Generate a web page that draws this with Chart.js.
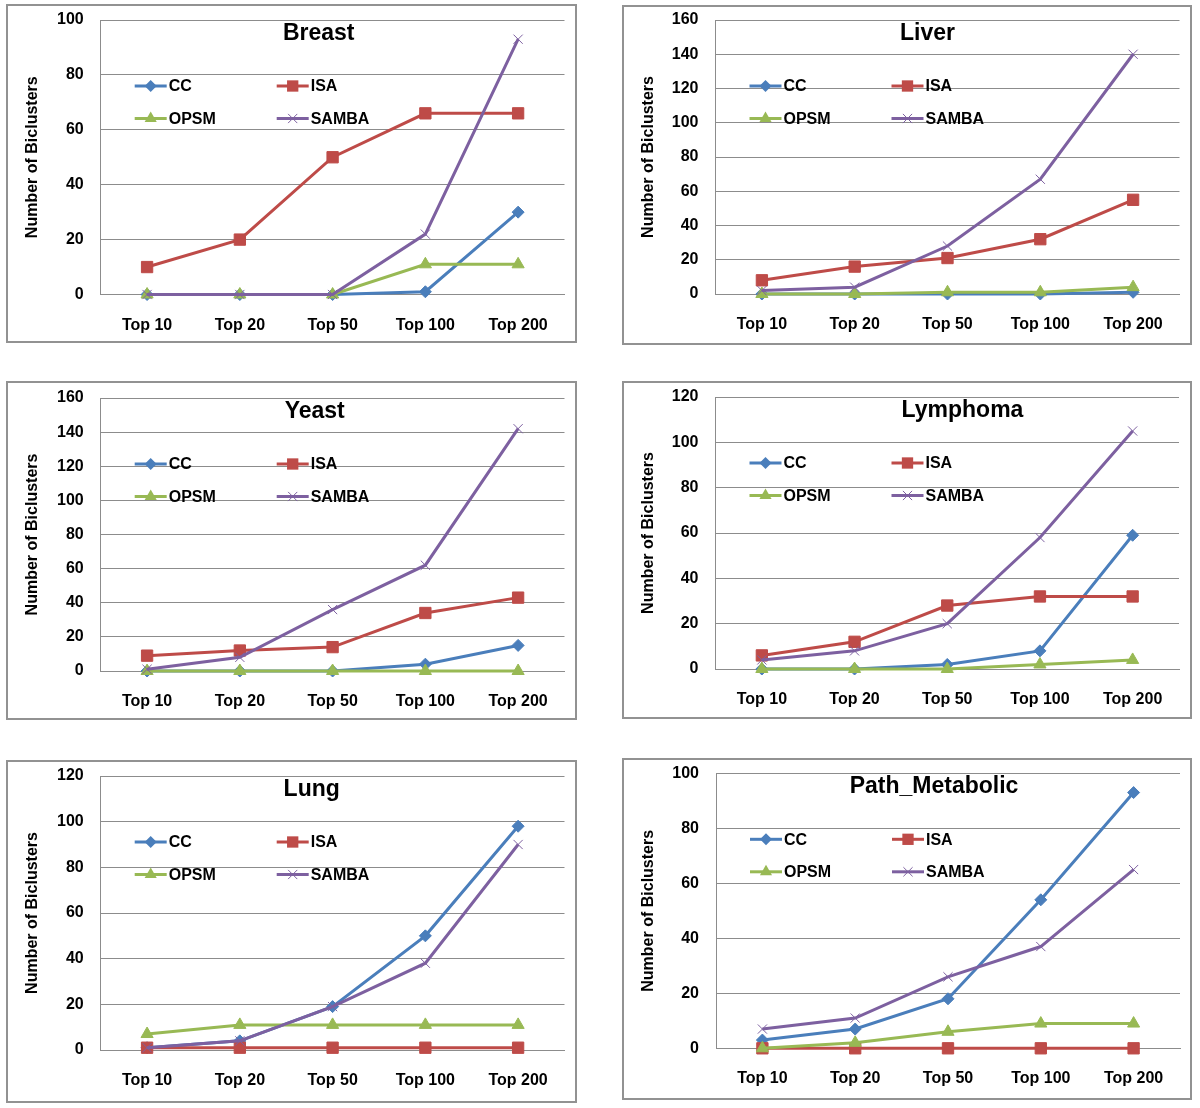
<!DOCTYPE html>
<html><head><meta charset="utf-8">
<script src="https://cdn.jsdelivr.net/npm/chart.js@4.4.1/dist/chart.umd.min.js"></script>
<style>
html,body{margin:0;padding:0;background:#fff}
body{width:1200px;height:1108px;position:relative;overflow:hidden}
.panel{position:absolute}
.panel canvas{position:absolute;left:0;top:0}
.frame{position:absolute;box-sizing:border-box;border:2px solid #929292;pointer-events:none}
</style></head><body>
<script>
// ---------- data ----------
const categories = ['Top 10', 'Top 20', 'Top 50', 'Top 100', 'Top 200'];
const seriesNames = ['CC', 'ISA', 'OPSM', 'SAMBA'];
const panelTitles = ['Breast', 'Liver', 'Yeast', 'Lymphoma', 'Lung', 'Path_Metabolic'];
const yAxisTitle = 'Number of Biclusters';
const yMax = [100, 160, 160, 120, 120, 100];
const yStep = 20;

const breastCC    = [0, 0, 0, 1, 30];
const breastISA   = [10, 20, 50, 66, 66];
const breastOPSM  = [0, 0, 0, 11, 11];
const breastSAMBA = [0, 0, 0, 22, 93];

const liverCC    = [0, 0, 0, 0, 1];
const liverISA   = [8, 16, 21, 32, 55];
const liverOPSM  = [0, 0, 1, 1, 4];
const liverSAMBA = [2, 4, 28, 67, 140];

const yeastCC    = [0, 0, 0, 4, 15];
const yeastISA   = [9, 12, 14, 34, 43];
const yeastOPSM  = [0, 0, 0, 0, 0];
const yeastSAMBA = [1, 8, 36, 62, 142];

const lymphomaCC    = [0, 0, 2, 8, 59];
const lymphomaISA   = [6, 12, 28, 32, 32];
const lymphomaOPSM  = [0, 0, 0, 2, 4];
const lymphomaSAMBA = [4, 8, 20, 58, 105];

const lungCC    = [1, 4, 19, 50, 98];
const lungISA   = [1, 1, 1, 1, 1];
const lungOPSM  = [7, 11, 11, 11, 11];
const lungSAMBA = [1, 4, 19, 38, 90];

const metabCC    = [3, 7, 18, 54, 93];
const metabISA   = [0, 0, 0, 0, 0];
const metabOPSM  = [0, 2, 6, 9, 9];
const metabSAMBA = [7, 11, 26, 37, 65];

const panelSeries = [
  [breastCC, breastISA, breastOPSM, breastSAMBA],
  [liverCC, liverISA, liverOPSM, liverSAMBA],
  [yeastCC, yeastISA, yeastOPSM, yeastSAMBA],
  [lymphomaCC, lymphomaISA, lymphomaOPSM, lymphomaSAMBA],
  [lungCC, lungISA, lungOPSM, lungSAMBA],
  [metabCC, metabISA, metabOPSM, metabSAMBA]
];

// ---------- styles / layout ----------
const FONT = '"Liberation Sans", Arial, sans-serif';
const seriesStyle = [
  {color: '#4A7EBB', point: 'rectRot', radius: 6, bw: 1},
  {color: '#BE4B48', point: 'rect', radius: 8, bw: 1},
  {color: '#98B954', point: 'triangle', radius: 7, bw: 1},
  {color: '#7D60A0', point: 'crossRot', radius: 6.5, bw: 1}
];
// box: frame of each panel; plot: chart area; titleX: title centre from plot left
const layout = [
  {box: [6, 4, 571, 339],   plot: [100.7, 20, 564.5, 294.5], titleX: 218},
  {box: [622, 5, 570, 340], plot: [715.5, 20, 1179.5, 294],  titleX: 212},
  {box: [6, 381, 571, 339], plot: [100.7, 398, 564.5, 671],  titleX: 214},
  {box: [622, 381, 570, 338], plot: [715.5, 397, 1179, 669], titleX: 247},
  {box: [6, 760, 571, 343], plot: [100.7, 776, 564.5, 1050], titleX: 211},
  {box: [622, 758, 570, 342], plot: [716, 773.3, 1180, 1048.3], titleX: 218}
];

function drawMarker(ctx, style, x, y, r, color) {
  ctx.save();
  ctx.fillStyle = color; ctx.strokeStyle = color; ctx.lineWidth = 1;
  ctx.beginPath();
  if (style === 'rect') {
    const s = r * Math.SQRT1_2;
    ctx.rect(x - s, y - s, 2 * s, 2 * s); ctx.fill();
  } else if (style === 'rectRot') {
    ctx.moveTo(x, y - r); ctx.lineTo(x + r, y); ctx.lineTo(x, y + r); ctx.lineTo(x - r, y); ctx.closePath(); ctx.fill();
  } else if (style === 'triangle') {
    const h = r * Math.sqrt(3) / 2;
    ctx.moveTo(x, y - r); ctx.lineTo(x + h, y + r / 2); ctx.lineTo(x - h, y + r / 2); ctx.closePath(); ctx.fill();
  } else if (style === 'crossRot') {
    const d = r * Math.SQRT1_2;
    ctx.moveTo(x - d, y - d); ctx.lineTo(x + d, y + d);
    ctx.moveTo(x + d, y - d); ctx.lineTo(x - d, y + d); ctx.stroke();
  }
  ctx.restore();
}

const panelDecor = {
  id: 'panelDecor',
  afterDraw(chart, args, opts) {
    const {ctx, chartArea: a} = chart;
    ctx.save();
    ctx.fillStyle = '#000';
    ctx.font = 'bold 23px ' + FONT;
    ctx.textAlign = 'center';
    ctx.textBaseline = 'alphabetic';
    ctx.fillText(opts.title, a.left + opts.titleX, a.top + 20);
    ctx.font = 'bold 16px ' + FONT;
    ctx.textAlign = 'left';
    ctx.textBaseline = 'middle';
    chart.data.datasets.forEach((ds, i) => {
      const st = seriesStyle[i];
      const col = i % 2, row = Math.floor(i / 2);
      const x0 = a.left + 34 + col * 142;
      const y = a.top + 66 + row * 32.5;
      ctx.strokeStyle = st.color; ctx.lineWidth = 3;
      ctx.beginPath(); ctx.moveTo(x0, y); ctx.lineTo(x0 + 32, y); ctx.stroke();
      drawMarker(ctx, st.point, x0 + 16, y, st.radius, st.color);
      ctx.fillStyle = '#000';
      ctx.fillText(ds.label, x0 + 34, y + 1);
    });
    ctx.restore();
  }
};

const GRID = '#8c8c8c';

panelTitles.forEach((title, p) => {
  const L = layout[p];
  const [bx, by, bw, bh] = L.box;
  const [pl, pt, pr, pb] = L.plot;
  const div = document.createElement('div');
  div.className = 'panel';
  div.style.left = bx + 'px'; div.style.top = by + 'px';
  div.style.width = bw + 'px'; div.style.height = bh + 'px';
  const cv = document.createElement('canvas');
  cv.width = bw; cv.height = bh;
  cv.style.width = bw + 'px'; cv.style.height = bh + 'px';
  div.appendChild(cv);
  document.body.appendChild(div);
  const fr = document.createElement('div');
  fr.className = 'frame';
  fr.style.left = bx + 'px'; fr.style.top = by + 'px';
  fr.style.width = bw + 'px'; fr.style.height = bh + 'px';
  document.body.appendChild(fr);

  const datasets = seriesNames.map((name, i) => ({
    label: name,
    data: panelSeries[p][i],
    borderColor: seriesStyle[i].color,
    backgroundColor: seriesStyle[i].color,
    pointBackgroundColor: seriesStyle[i].color,
    pointBorderColor: seriesStyle[i].color,
    pointStyle: seriesStyle[i].point,
    pointRadius: seriesStyle[i].radius,
    pointBorderWidth: seriesStyle[i].bw,
    borderWidth: 3,
    tension: 0,
    order: 3 - i,
    clip: false
  }));

  new Chart(cv, {
    type: 'line',
    data: {labels: categories, datasets},
    plugins: [panelDecor],
    options: {
      responsive: false,
      animation: false,
      devicePixelRatio: 1,
      layout: {autoPadding: false, padding: {left: 0, top: pt - by, right: (bx + bw) - pr, bottom: 0}},
      plugins: {
        legend: {display: false},
        tooltip: {enabled: false},
        title: {display: false},
        panelDecor: {title: title, titleX: L.titleX}
      },
      scales: {
        x: {
          type: 'category',
          offset: true,
          grid: {display: false, drawTicks: false, offset: true},
          border: {display: true, color: GRID, width: 1},
          ticks: {color: '#000', font: {family: FONT, size: 16, weight: 'bold'}, padding: 21, maxRotation: 0, autoSkip: false},
          afterFit: (s) => { s.height = (by + bh) - pb; s.paddingLeft = 0; s.paddingRight = 0; }
        },
        y: {
          min: 0, max: yMax[p],
          grid: {color: GRID, lineWidth: 1, drawTicks: false},
          border: {display: true, color: GRID, width: 1},
          ticks: {stepSize: yStep, color: '#000', font: {family: FONT, size: 16, weight: 'bold'}, padding: 17},
          title: {display: true, text: yAxisTitle, color: '#000', font: {family: FONT, size: 16, weight: 'bold'}, padding: {top: 17, bottom: 0}},
          afterFit: (s) => { s.width = pl - bx; s.paddingTop = 0; s.paddingBottom = 0; }
        }
      }
    }
  });
});
</script>
</body></html>
